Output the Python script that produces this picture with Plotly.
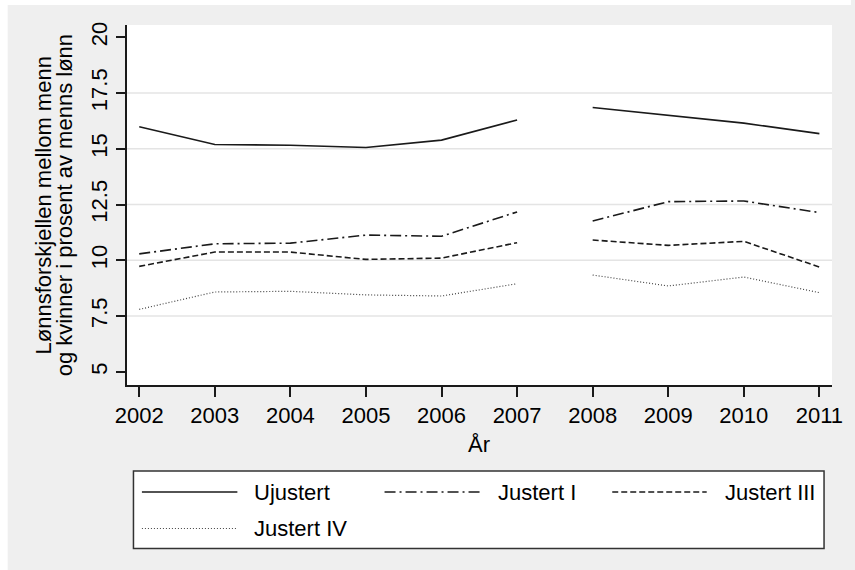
import plotly.graph_objects as go

years = [2002, 2003, 2004, 2005, 2006, 2007, 2008, 2009, 2010, 2011]
ujustert = [15.99, 15.19, 15.16, 15.06, 15.39, 16.29, 16.85, 16.50, 16.15, 15.68]
justert_i = [10.29, 10.74, 10.77, 11.13, 11.08, 12.17, 11.76, 12.63, 12.66, 12.14]
justert_iii = [9.73, 10.37, 10.37, 10.04, 10.10, 10.79, 10.91, 10.67, 10.85, 9.70]
justert_iv = [7.80, 8.58, 8.61, 8.45, 8.40, 8.95, 9.34, 8.85, 9.25, 8.55]
series_names = ["Ujustert", "Justert I", "Justert III", "Justert IV"]
break_after = 2007  # gap in the series between 2007 and 2008
y_ticks = [5, 7.5, 10, 12.5, 15, 17.5, 20]
y_tick_text = ["5", "7.5", "10", "12.5", "15", "17.5", "20"]
grid_values = [7.5, 10, 12.5, 15, 17.5]
y_title_lines = ["Lønnsforskjellen mellom menn", "og kvinner i prosent av menns lønn"]
x_title = "År"

W, H = 855, 570
L, R, T, B = 127, 19, 25, 185
PW, PH = W - L - R, H - T - B
FONT = "Liberation Sans, Arial, sans-serif"
FS = 22


def px(x):
    return (x - L) / PW


def py(y):
    return (H - B - y) / PH


def with_gap(xs, ys):
    ox, oy = [], []
    for x, y in zip(xs, ys):
        ox.append(x)
        oy.append(y)
        if x == break_after:
            ox.append(None)
            oy.append(None)
    return ox, oy


styles = [
    dict(color="#1a1a1a", width=1.6, dash="solid"),
    dict(color="#1a1a1a", width=1.6, dash="11px,4px,2px,4px"),
    dict(color="#1a1a1a", width=1.6, dash="6px,3px"),
    dict(color="#444444", width=1.2, dash="1px,2px"),
]
data = [ujustert, justert_i, justert_iii, justert_iv]

fig = go.Figure()
for name, vals, st in zip(series_names, data, styles):
    xs, ys = with_gap(years, vals)
    fig.add_trace(go.Scatter(x=xs, y=ys, mode="lines", name=name, line=st,
                             connectgaps=False, showlegend=False))

shapes = []
# white strips at the top/left edge of the page
shapes.append(dict(type="rect", xref="paper", yref="paper", x0=px(0), x1=px(W), y0=py(5), y1=py(-2),
                   fillcolor="white", line=dict(width=0), layer="below"))
shapes.append(dict(type="rect", xref="paper", yref="paper", x0=px(-2), x1=px(7), y0=py(H + 2), y1=py(-2),
                   fillcolor="white", line=dict(width=0), layer="below"))
for g in grid_values:
    shapes.append(dict(type="line", xref="paper", yref="y", x0=0, x1=1, y0=g, y1=g,
                       line=dict(color="#e4e4e4", width=1.5), layer="below"))

# legend box
shapes.append(dict(type="rect", xref="paper", yref="paper", x0=px(133.5), x1=px(828), y0=py(548.5), y1=py(471),
                   fillcolor="white", line=dict(color="#333333", width=1.5)))
legend_pos = [(142, 238, 253, 492), (386, 482, 498, 492), (615, 710, 726, 492), (142, 238, 253, 528.5)]
annotations = []
for name, st, (sx0, sx1, tx, ly) in zip(series_names, styles, legend_pos):
    shapes.append(dict(type="line", xref="paper", yref="paper", x0=px(sx0), x1=px(sx1), y0=py(ly), y1=py(ly),
                       line=st))
    annotations.append(dict(text=name, xref="paper", yref="paper", x=px(tx), y=py(ly), xanchor="left",
                            yanchor="middle", showarrow=False, font=dict(family=FONT, size=FS, color="black")))

# y-axis title lines (rotated)
for txt, cx in zip(y_title_lines, [43, 64]):
    annotations.append(dict(text=txt, xref="paper", yref="paper", x=px(cx), y=py(205), textangle=-90,
                            xanchor="center", yanchor="middle", showarrow=False,
                            font=dict(family=FONT, size=FS, color="black")))
annotations.append(dict(text=x_title, xref="paper", yref="paper", x=px(481), y=py(444), xanchor="center",
                        yanchor="middle", showarrow=False, font=dict(family=FONT, size=FS, color="black")))

fig.update_layout(
    width=W, height=H,
    margin=dict(l=L, r=R, t=T, b=B),
    paper_bgcolor="#efefef",
    plot_bgcolor="white",
    font=dict(family=FONT, size=FS, color="black"),
    shapes=shapes,
    annotations=annotations,
    showlegend=False,
    xaxis=dict(range=[2001.838, 2011.167], tickmode="array", tickvals=years,
               ticktext=[str(y) for y in years], showgrid=False, zeroline=False,
               showline=True, linecolor="#1a1a1a", linewidth=1.5,
               ticks="outside", ticklen=10, tickwidth=1.5, tickcolor="#1a1a1a",
               tickfont=dict(family=FONT, size=FS, color="black")),
    yaxis=dict(range=[4.41, 20.55], tickmode="array", tickvals=y_ticks, ticktext=y_tick_text,
               tickangle=-90, showgrid=False, zeroline=False,
               showline=True, linecolor="#1a1a1a", linewidth=1.5,
               ticks="outside", ticklen=9, tickwidth=1.5, tickcolor="#1a1a1a",
               tickfont=dict(family=FONT, size=FS, color="black")),
)

fig.write_html("out.html")
